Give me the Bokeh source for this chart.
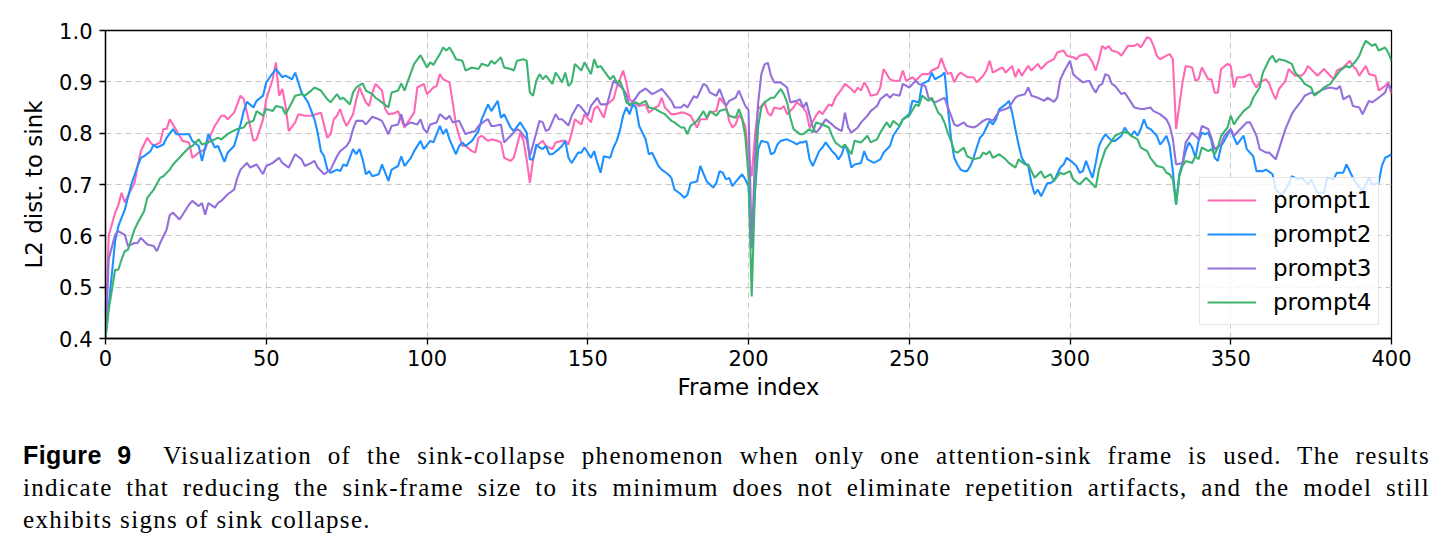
from bokeh.plotting import figure
from bokeh.models import Range1d, FixedTicker, NumeralTickFormatter, Div
from bokeh.layouts import column
from bokeh.embed import file_html
from bokeh.resources import INLINE

# ---------------- data ----------------
series_names = ["prompt1", "prompt2", "prompt3", "prompt4"]
series_colors = ["#FF69B4", "#1E90FF", "#9370DB", "#3CB371"]

x_ticks = [0, 50, 100, 150, 200, 250, 300, 350, 400]
y_ticks = [0.4, 0.5, 0.6, 0.7, 0.8, 0.9, 1.0]

p1_frame = [0, 1, 3, 4, 5, 6, 7, 9, 10, 11, 13, 14, 15, 17, 18, 19, 20, 21, 23, 24, 26, 27, 29, 31, 33, 34, 36, 37, 38, 40,
            42, 43, 45, 46, 47, 49, 50, 52, 53, 54, 55, 56, 57, 59, 60, 62, 64, 67, 69, 70, 71, 72, 73, 74, 75, 77, 78, 79, 81, 82,
            83, 84, 86, 87, 88, 90, 91, 92, 93, 94, 96, 97, 99, 100, 102, 103, 104, 105, 107, 108, 109, 110, 111, 112, 114, 115, 116, 117, 119, 120,
            122, 123, 124, 126, 127, 129, 130, 131, 132, 133, 134, 136, 137, 139, 140, 142, 143, 144, 145, 146, 148, 149, 151, 152, 153, 155, 156, 158, 159, 160,
            161, 162, 163, 165, 166, 168, 169, 171, 172, 173, 174, 176, 177, 179, 180, 182, 184, 185, 187, 188, 190, 191, 193, 194, 195, 196, 197, 198, 199, 200,
            201, 202, 203, 204, 205, 206, 207, 208, 210, 211, 212, 214, 215, 217, 218, 219, 221, 222, 223, 225, 226, 227, 229, 230, 232, 233, 234, 235, 236, 237,
            238, 240, 241, 242, 244, 245, 247, 248, 249, 251, 252, 254, 256, 257, 259, 260, 261, 262, 263, 264, 265, 266, 268, 270, 271, 273, 274, 275, 276, 278,
            279, 280, 282, 283, 284, 285, 287, 288, 290, 291, 293, 295, 296, 298, 299, 301, 302, 303, 305, 306, 307, 308, 309, 310, 311, 312, 313, 315, 316, 318,
            320, 321, 322, 324, 325, 326, 327, 328, 330, 331, 332, 333, 334, 335, 336, 338, 339, 340, 341, 343, 344, 345, 346, 347, 349, 350, 351, 352, 354, 356,
            357, 358, 359, 361, 362, 363, 364, 365, 367, 368, 370, 372, 373, 374, 376, 377, 379, 380, 382, 383, 385, 387, 388, 389, 390, 392, 393, 395, 396, 398,
            399, 400]
p1_value = [0.400, 0.600, 0.645, 0.660, 0.684, 0.665, 0.678, 0.703, 0.736, 0.765, 0.791, 0.782, 0.775, 0.782, 0.808, 0.808, 0.827, 0.817, 0.795, 0.785, 0.782, 0.752, 0.762, 0.769, 0.801, 0.814, 0.834, 0.834, 0.827, 0.840,
            0.873, 0.866, 0.814, 0.785, 0.788, 0.827, 0.866, 0.905, 0.938, 0.873, 0.886, 0.853, 0.804, 0.821, 0.837, 0.834, 0.834, 0.840, 0.791, 0.798, 0.827, 0.834, 0.847, 0.827, 0.814, 0.837, 0.866, 0.889, 0.860, 0.853,
            0.879, 0.896, 0.883, 0.847, 0.837, 0.839, 0.843, 0.827, 0.811, 0.821, 0.840, 0.889, 0.896, 0.876, 0.889, 0.892, 0.915, 0.905, 0.899, 0.860, 0.817, 0.795, 0.775, 0.775, 0.765, 0.762, 0.791, 0.795, 0.785, 0.788,
            0.785, 0.782, 0.752, 0.746, 0.752, 0.801, 0.785, 0.749, 0.703, 0.749, 0.775, 0.785, 0.775, 0.769, 0.782, 0.785, 0.785, 0.778, 0.801, 0.827, 0.817, 0.837, 0.821, 0.847, 0.853, 0.830, 0.856, 0.866, 0.889, 0.905,
            0.922, 0.899, 0.866, 0.856, 0.853, 0.856, 0.840, 0.850, 0.853, 0.869, 0.850, 0.837, 0.837, 0.840, 0.840, 0.834, 0.811, 0.827, 0.827, 0.840, 0.843, 0.869, 0.853, 0.824, 0.811, 0.817, 0.835, 0.827, 0.814, 0.755,
            0.716, 0.795, 0.847, 0.853, 0.860, 0.840, 0.834, 0.850, 0.847, 0.853, 0.837, 0.850, 0.860, 0.850, 0.840, 0.811, 0.834, 0.843, 0.837, 0.856, 0.853, 0.869, 0.886, 0.896, 0.886, 0.879, 0.889, 0.883, 0.899, 0.889,
            0.873, 0.876, 0.889, 0.925, 0.905, 0.902, 0.902, 0.922, 0.902, 0.909, 0.902, 0.915, 0.915, 0.922, 0.928, 0.946, 0.928, 0.915, 0.918, 0.899, 0.912, 0.918, 0.909, 0.909, 0.899, 0.912, 0.922, 0.941, 0.918, 0.925,
            0.928, 0.918, 0.931, 0.909, 0.925, 0.912, 0.931, 0.922, 0.935, 0.925, 0.938, 0.944, 0.957, 0.961, 0.951, 0.948, 0.944, 0.951, 0.954, 0.948, 0.938, 0.922, 0.944, 0.970, 0.964, 0.970, 0.961, 0.957, 0.951, 0.970,
            0.970, 0.974, 0.967, 0.987, 0.984, 0.970, 0.951, 0.944, 0.951, 0.954, 0.944, 0.808, 0.853, 0.899, 0.931, 0.928, 0.902, 0.905, 0.928, 0.905, 0.905, 0.879, 0.879, 0.925, 0.935, 0.931, 0.889, 0.909, 0.909, 0.915,
            0.899, 0.889, 0.899, 0.905, 0.896, 0.879, 0.866, 0.886, 0.902, 0.925, 0.912, 0.912, 0.918, 0.931, 0.918, 0.912, 0.925, 0.918, 0.905, 0.922, 0.928, 0.941, 0.931, 0.925, 0.912, 0.931, 0.915, 0.912, 0.883, 0.892,
            0.899, 0.876]

p2_frame = [0, 3, 4, 6, 8, 10, 11, 12, 14, 15, 16, 18, 19, 21, 22, 24, 26, 27, 29, 30, 32, 34, 35, 37, 38, 40, 42, 43, 44, 46,
            47, 49, 50, 51, 53, 55, 56, 58, 59, 61, 63, 65, 66, 67, 68, 69, 70, 72, 73, 74, 75, 77, 78, 79, 80, 81, 82, 83, 85, 86,
            87, 88, 89, 91, 92, 93, 95, 96, 98, 99, 101, 102, 104, 105, 106, 107, 109, 110, 111, 112, 114, 116, 117, 119, 120, 122, 123, 124, 126, 127,
            129, 130, 131, 132, 133, 134, 135, 136, 137, 138, 139, 141, 142, 143, 144, 145, 147, 148, 149, 151, 152, 153, 154, 155, 157, 158, 159, 160, 161, 162,
            163, 164, 165, 166, 168, 169, 170, 172, 173, 175, 176, 177, 179, 180, 181, 182, 184, 185, 187, 188, 189, 190, 191, 192, 193, 194, 195, 196, 198, 199,
            200, 201, 202, 203, 204, 206, 207, 208, 209, 210, 212, 214, 215, 216, 217, 218, 219, 220, 222, 223, 224, 226, 227, 228, 229, 230, 231, 232, 233, 235,
            236, 237, 239, 241, 242, 244, 245, 247, 248, 250, 251, 253, 254, 256, 257, 258, 260, 261, 262, 263, 264, 265, 266, 267, 268, 269, 270, 271, 272, 273,
            274, 275, 276, 277, 278, 280, 281, 282, 283, 284, 285, 286, 287, 288, 289, 290, 291, 292, 293, 294, 295, 297, 298, 299, 301, 302, 303, 304, 305, 306,
            307, 308, 309, 310, 311, 313, 314, 316, 317, 318, 319, 320, 321, 322, 323, 324, 325, 327, 328, 329, 330, 331, 332, 333, 334, 335, 336, 337, 338, 339,
            340, 341, 342, 343, 344, 345, 346, 347, 348, 350, 351, 352, 354, 355, 357, 358, 360, 361, 363, 364, 366, 368, 369, 371, 372, 374, 375, 377, 379, 380,
            382, 383, 385, 386, 388, 389, 391, 393, 394, 396, 397, 398, 399, 400]
p2_value = [0.400, 0.590, 0.619, 0.651, 0.700, 0.736, 0.752, 0.755, 0.765, 0.778, 0.772, 0.778, 0.791, 0.808, 0.798, 0.798, 0.798, 0.785, 0.775, 0.746, 0.798, 0.772, 0.775, 0.744, 0.762, 0.775, 0.817, 0.843, 0.861, 0.850,
            0.863, 0.873, 0.899, 0.908, 0.925, 0.909, 0.912, 0.905, 0.918, 0.879, 0.860, 0.827, 0.801, 0.765, 0.755, 0.729, 0.723, 0.729, 0.726, 0.739, 0.736, 0.769, 0.759, 0.769, 0.749, 0.720, 0.726, 0.716, 0.720, 0.739,
            0.723, 0.707, 0.729, 0.736, 0.755, 0.736, 0.752, 0.765, 0.785, 0.769, 0.785, 0.782, 0.814, 0.798, 0.808, 0.788, 0.759, 0.775, 0.782, 0.775, 0.785, 0.804, 0.827, 0.856, 0.843, 0.863, 0.830, 0.837, 0.811, 0.804,
            0.821, 0.811, 0.801, 0.749, 0.749, 0.778, 0.772, 0.769, 0.775, 0.759, 0.759, 0.769, 0.775, 0.785, 0.752, 0.742, 0.762, 0.762, 0.772, 0.752, 0.765, 0.742, 0.723, 0.755, 0.752, 0.772, 0.785, 0.805, 0.834, 0.850,
            0.837, 0.856, 0.850, 0.814, 0.788, 0.759, 0.762, 0.736, 0.729, 0.720, 0.713, 0.690, 0.681, 0.674, 0.680, 0.703, 0.706, 0.736, 0.706, 0.700, 0.694, 0.703, 0.726, 0.723, 0.710, 0.713, 0.697, 0.705, 0.720, 0.710,
            0.697, 0.576, 0.684, 0.769, 0.785, 0.782, 0.759, 0.762, 0.778, 0.785, 0.788, 0.782, 0.778, 0.782, 0.782, 0.785, 0.749, 0.736, 0.765, 0.772, 0.782, 0.765, 0.759, 0.749, 0.759, 0.778, 0.762, 0.733, 0.739, 0.742,
            0.765, 0.749, 0.742, 0.749, 0.762, 0.775, 0.795, 0.814, 0.827, 0.837, 0.863, 0.860, 0.896, 0.902, 0.918, 0.905, 0.912, 0.918, 0.850, 0.790, 0.752, 0.739, 0.729, 0.726, 0.726, 0.736, 0.752, 0.772, 0.791, 0.798,
            0.811, 0.824, 0.817, 0.827, 0.847, 0.856, 0.863, 0.840, 0.808, 0.778, 0.752, 0.742, 0.736, 0.703, 0.681, 0.690, 0.677, 0.690, 0.703, 0.703, 0.707, 0.733, 0.739, 0.752, 0.742, 0.736, 0.723, 0.726, 0.746, 0.729,
            0.713, 0.742, 0.775, 0.788, 0.798, 0.785, 0.785, 0.795, 0.811, 0.801, 0.795, 0.804, 0.795, 0.808, 0.827, 0.811, 0.808, 0.795, 0.778, 0.785, 0.795, 0.775, 0.725, 0.661, 0.720, 0.742, 0.765, 0.782, 0.772, 0.752,
            0.785, 0.801, 0.798, 0.801, 0.785, 0.752, 0.746, 0.775, 0.785, 0.808, 0.791, 0.778, 0.795, 0.769, 0.755, 0.726, 0.726, 0.729, 0.720, 0.690, 0.680, 0.700, 0.716, 0.710, 0.713, 0.700, 0.710, 0.684, 0.684, 0.713,
            0.710, 0.723, 0.723, 0.739, 0.713, 0.703, 0.687, 0.713, 0.700, 0.703, 0.736, 0.752, 0.755, 0.759]

p3_frame = [0, 1, 3, 4, 6, 7, 9, 10, 11, 13, 15, 16, 17, 19, 20, 21, 23, 24, 26, 27, 29, 30, 31, 32, 34, 35, 36, 38, 40, 41,
            42, 44, 45, 47, 49, 50, 52, 54, 55, 57, 59, 61, 62, 64, 65, 66, 68, 70, 72, 73, 75, 76, 77, 78, 80, 81, 83, 85, 86, 88,
            89, 91, 92, 93, 95, 97, 98, 99, 100, 101, 103, 104, 106, 107, 108, 110, 112, 113, 115, 116, 118, 119, 120, 121, 123, 124, 126, 128, 129, 131,
            132, 134, 135, 136, 137, 138, 140, 141, 142, 144, 145, 147, 148, 150, 151, 153, 154, 156, 158, 160, 161, 162, 163, 165, 166, 168, 170, 171, 173, 174,
            176, 177, 179, 180, 181, 183, 184, 186, 187, 188, 190, 191, 193, 194, 196, 197, 199, 200, 201, 202, 203, 204, 205, 206, 207, 208, 210, 212, 213, 215,
            216, 217, 218, 220, 221, 222, 224, 226, 227, 229, 230, 231, 232, 234, 235, 237, 238, 240, 241, 243, 244, 245, 247, 248, 250, 252, 253, 255, 256, 258,
            259, 261, 262, 263, 264, 265, 267, 268, 270, 271, 273, 274, 275, 276, 278, 280, 281, 283, 284, 286, 287, 288, 290, 292, 293, 295, 296, 297, 298, 300,
            301, 302, 304, 306, 307, 308, 309, 310, 311, 312, 313, 314, 316, 317, 319, 320, 322, 323, 325, 326, 328, 330, 331, 332, 333, 335, 336, 338, 340, 341,
            343, 344, 345, 347, 348, 350, 351, 353, 355, 356, 358, 359, 361, 362, 364, 365, 367, 369, 370, 372, 373, 375, 376, 378, 379, 381, 383, 384, 385, 387,
            388, 390, 391, 393, 394, 396, 398, 399, 400]
p3_value = [0.400, 0.555, 0.602, 0.609, 0.602, 0.580, 0.586, 0.586, 0.596, 0.583, 0.580, 0.570, 0.586, 0.612, 0.641, 0.645, 0.632, 0.641, 0.661, 0.668, 0.658, 0.664, 0.641, 0.664, 0.655, 0.664, 0.668, 0.681, 0.690, 0.713,
            0.729, 0.742, 0.733, 0.739, 0.720, 0.736, 0.742, 0.752, 0.742, 0.733, 0.759, 0.749, 0.736, 0.742, 0.746, 0.733, 0.720, 0.729, 0.755, 0.765, 0.775, 0.785, 0.808, 0.824, 0.824, 0.817, 0.832, 0.827, 0.824, 0.798,
            0.814, 0.817, 0.837, 0.814, 0.821, 0.817, 0.827, 0.808, 0.801, 0.817, 0.821, 0.837, 0.827, 0.834, 0.821, 0.824, 0.798, 0.801, 0.804, 0.814, 0.824, 0.827, 0.814, 0.814, 0.817, 0.782, 0.795, 0.808, 0.804, 0.788,
            0.755, 0.801, 0.824, 0.821, 0.804, 0.808, 0.837, 0.827, 0.827, 0.815, 0.834, 0.856, 0.850, 0.834, 0.853, 0.869, 0.856, 0.856, 0.902, 0.892, 0.886, 0.876, 0.853, 0.869, 0.879, 0.887, 0.876, 0.879, 0.886, 0.879,
            0.863, 0.850, 0.850, 0.856, 0.850, 0.872, 0.869, 0.896, 0.892, 0.879, 0.873, 0.886, 0.853, 0.863, 0.869, 0.883, 0.853, 0.845, 0.580, 0.749, 0.859, 0.915, 0.934, 0.937, 0.912, 0.899, 0.899, 0.889, 0.860, 0.863,
            0.866, 0.850, 0.860, 0.811, 0.801, 0.808, 0.827, 0.817, 0.811, 0.804, 0.840, 0.811, 0.801, 0.811, 0.821, 0.834, 0.843, 0.853, 0.866, 0.876, 0.869, 0.876, 0.873, 0.896, 0.889, 0.902, 0.896, 0.892, 0.869, 0.860,
            0.863, 0.869, 0.850, 0.834, 0.817, 0.814, 0.821, 0.814, 0.811, 0.814, 0.824, 0.827, 0.827, 0.824, 0.843, 0.847, 0.850, 0.869, 0.873, 0.876, 0.889, 0.873, 0.869, 0.863, 0.869, 0.861, 0.869, 0.905, 0.918, 0.941,
            0.915, 0.909, 0.899, 0.902, 0.889, 0.879, 0.892, 0.896, 0.915, 0.912, 0.896, 0.892, 0.876, 0.879, 0.860, 0.850, 0.847, 0.847, 0.850, 0.843, 0.837, 0.827, 0.814, 0.788, 0.739, 0.742, 0.782, 0.801, 0.788, 0.814,
            0.808, 0.791, 0.769, 0.778, 0.795, 0.808, 0.795, 0.808, 0.821, 0.821, 0.795, 0.769, 0.762, 0.762, 0.749, 0.769, 0.808, 0.837, 0.847, 0.863, 0.873, 0.879, 0.876, 0.883, 0.886, 0.889, 0.886, 0.892, 0.866, 0.873,
            0.853, 0.850, 0.837, 0.863, 0.860, 0.869, 0.879, 0.896, 0.883]

p4_frame = [0, 1, 3, 4, 5, 6, 7, 9, 10, 12, 13, 15, 17, 18, 20, 21, 23, 24, 26, 27, 29, 30, 32, 33, 35, 36, 38, 39, 41, 43,
            44, 46, 47, 49, 50, 52, 53, 55, 56, 58, 59, 61, 62, 64, 65, 67, 69, 70, 72, 73, 74, 76, 77, 78, 80, 81, 83, 84, 86, 88,
            89, 91, 92, 93, 95, 96, 98, 100, 101, 102, 103, 104, 105, 106, 107, 108, 109, 111, 112, 114, 116, 117, 119, 120, 121, 123, 124, 126, 127, 128,
            130, 131, 132, 133, 134, 135, 136, 137, 139, 140, 141, 142, 143, 144, 145, 146, 148, 149, 151, 152, 153, 154, 155, 157, 158, 159, 160, 161, 162, 163,
            165, 166, 168, 169, 171, 173, 174, 176, 177, 179, 180, 181, 182, 184, 186, 187, 188, 190, 191, 193, 194, 196, 197, 198, 199, 200, 201, 202, 203, 204,
            205, 207, 208, 210, 211, 212, 213, 214, 216, 217, 219, 220, 221, 223, 225, 226, 227, 229, 230, 232, 233, 235, 237, 238, 240, 241, 243, 244, 245, 247,
            248, 250, 252, 253, 254, 256, 257, 259, 260, 261, 262, 263, 264, 265, 267, 268, 270, 272, 273, 274, 275, 276, 278, 280, 281, 283, 284, 286, 287, 289,
            291, 292, 294, 295, 297, 298, 300, 301, 303, 305, 306, 308, 309, 310, 311, 313, 314, 316, 318, 319, 321, 322, 324, 325, 327, 329, 330, 331, 332, 333,
            334, 335, 336, 338, 339, 340, 341, 343, 344, 345, 346, 347, 349, 350, 351, 352, 354, 356, 357, 359, 360, 362, 363, 364, 365, 367, 369, 370, 372, 373,
            375, 376, 378, 379, 381, 382, 384, 386, 387, 389, 390, 391, 392, 394, 395, 396, 398, 399, 400]
p4_value = [0.400, 0.456, 0.534, 0.534, 0.554, 0.570, 0.573, 0.612, 0.625, 0.648, 0.674, 0.690, 0.713, 0.716, 0.729, 0.739, 0.752, 0.759, 0.772, 0.775, 0.788, 0.778, 0.782, 0.785, 0.791, 0.788, 0.798, 0.802, 0.808, 0.811,
            0.820, 0.824, 0.843, 0.834, 0.847, 0.843, 0.853, 0.850, 0.837, 0.860, 0.873, 0.876, 0.873, 0.883, 0.889, 0.883, 0.866, 0.860, 0.876, 0.866, 0.869, 0.856, 0.879, 0.889, 0.897, 0.883, 0.876, 0.869, 0.860, 0.850,
            0.879, 0.883, 0.897, 0.883, 0.918, 0.935, 0.952, 0.928, 0.938, 0.933, 0.944, 0.954, 0.967, 0.961, 0.967, 0.957, 0.944, 0.941, 0.922, 0.928, 0.925, 0.935, 0.931, 0.941, 0.935, 0.948, 0.928, 0.925, 0.922, 0.941,
            0.944, 0.941, 0.879, 0.873, 0.902, 0.915, 0.905, 0.912, 0.896, 0.918, 0.909, 0.899, 0.918, 0.892, 0.899, 0.935, 0.922, 0.938, 0.915, 0.944, 0.928, 0.931, 0.922, 0.905, 0.912, 0.899, 0.902, 0.886, 0.860, 0.856,
            0.860, 0.856, 0.863, 0.850, 0.847, 0.840, 0.837, 0.824, 0.821, 0.811, 0.811, 0.798, 0.814, 0.824, 0.843, 0.830, 0.843, 0.834, 0.843, 0.847, 0.834, 0.830, 0.847, 0.830, 0.794, 0.716, 0.482, 0.684, 0.814, 0.850,
            0.860, 0.869, 0.869, 0.886, 0.876, 0.860, 0.830, 0.808, 0.798, 0.798, 0.808, 0.801, 0.821, 0.817, 0.811, 0.795, 0.782, 0.772, 0.778, 0.759, 0.785, 0.782, 0.795, 0.782, 0.788, 0.801, 0.821, 0.811, 0.824, 0.814,
            0.827, 0.834, 0.856, 0.853, 0.873, 0.863, 0.869, 0.840, 0.834, 0.820, 0.801, 0.785, 0.765, 0.762, 0.772, 0.755, 0.749, 0.752, 0.762, 0.759, 0.765, 0.752, 0.759, 0.749, 0.742, 0.733, 0.749, 0.739, 0.739, 0.713,
            0.726, 0.713, 0.720, 0.707, 0.723, 0.720, 0.726, 0.710, 0.700, 0.713, 0.707, 0.694, 0.729, 0.749, 0.768, 0.785, 0.795, 0.801, 0.802, 0.795, 0.788, 0.772, 0.765, 0.752, 0.736, 0.733, 0.723, 0.720, 0.710, 0.661,
            0.716, 0.736, 0.746, 0.742, 0.755, 0.749, 0.772, 0.765, 0.769, 0.759, 0.772, 0.795, 0.811, 0.834, 0.817, 0.827, 0.843, 0.853, 0.869, 0.889, 0.918, 0.944, 0.951, 0.938, 0.944, 0.941, 0.935, 0.918, 0.905, 0.896,
            0.889, 0.873, 0.883, 0.889, 0.896, 0.905, 0.922, 0.931, 0.928, 0.941, 0.951, 0.967, 0.980, 0.970, 0.974, 0.961, 0.967, 0.957, 0.941]

x_label = "Frame index"
y_label = "L2 dist. to sink"

# ---------------- figure ----------------
p = figure(frame_width=1286, frame_height=308,
           min_border_left=105, min_border_right=51, min_border_top=30, min_border_bottom=72,
           x_range=Range1d(0, 400), y_range=Range1d(0.4, 1.0),
           output_backend="svg", toolbar_location=None, background_fill_color="white",
           border_fill_color="white")

frames = [p1_frame, p2_frame, p3_frame, p4_frame]
values = [p1_value, p2_value, p3_value, p4_value]
for fr, va, name, col in zip(frames, values, series_names, series_colors):
    p.line(fr, va, line_color=col, line_width=2.1, legend_label=name)

tick_font = "DejaVu Sans"
for ax in (p.xaxis[0], p.yaxis[0]):
    ax.major_label_text_font = tick_font
    ax.major_label_text_font_size = "21px"
    ax.major_label_text_color = "black"
    ax.axis_label_text_font = tick_font
    ax.axis_label_text_font_size = "23px"
    ax.axis_label_text_font_style = "normal"
    ax.axis_label_text_color = "black"
    ax.axis_line_color = "black"
    ax.axis_line_width = 1.3
    ax.major_tick_line_color = "black"
    ax.major_tick_line_width = 1.3
    ax.major_tick_out = 6
    ax.major_tick_in = 0
    ax.minor_tick_line_color = None

p.xaxis.ticker = FixedTicker(ticks=x_ticks)
p.yaxis.ticker = FixedTicker(ticks=y_ticks)
p.yaxis.formatter = NumeralTickFormatter(format="0.0")
p.xaxis.axis_label = x_label
p.yaxis.axis_label = y_label
p.xaxis.major_label_standoff = 5
p.yaxis.major_label_standoff = 7
p.xaxis.axis_label_standoff = 5
p.yaxis.axis_label_standoff = 9

p.outline_line_color = "black"
p.outline_line_width = 1.3
p.outline_line_alpha = 1.0

for g in (p.xgrid[0], p.ygrid[0]):
    g.grid_line_color = "#c8c8c8"
    g.grid_line_dash = "6 4"
    g.grid_line_width = 1

lg = p.legend[0]
lg.location = (1094, 13)
lg.label_text_font = tick_font
lg.label_text_font_size = "23px"
lg.label_text_color = "black"
lg.glyph_width = 49
lg.glyph_height = 30
lg.label_height = 30
lg.label_standoff = 17
lg.spacing = 4
lg.padding = 7
lg.margin = 0
lg.border_line_color = "#cccccc"
lg.border_line_width = 1
lg.background_fill_alpha = 0.8

caption_html = """
<div style="width:1407px; margin-left:18px; padding-top:24px; font-family:'Liberation Serif', serif; font-size:25px; line-height:32px; letter-spacing:1.3px; color:#000;">
<div style="text-align:justify; text-align-last:justify;"><span style="font-family:'Liberation Sans', sans-serif; font-weight:bold; letter-spacing:0.4px;">Figure 9</span>&nbsp;&nbsp;Visualization of the sink-collapse phenomenon when only one attention-sink frame is used. The results</div>
<div style="text-align:justify; text-align-last:justify;">indicate that reducing the sink-frame size to its minimum does not eliminate repetition artifacts, and the model still</div>
<div>exhibits signs of sink collapse.</div>
</div>
"""
cap = Div(text=caption_html, width=1442, height=140)

layout = column(p, cap)
open("out.html", "w").write(file_html(layout, INLINE))
